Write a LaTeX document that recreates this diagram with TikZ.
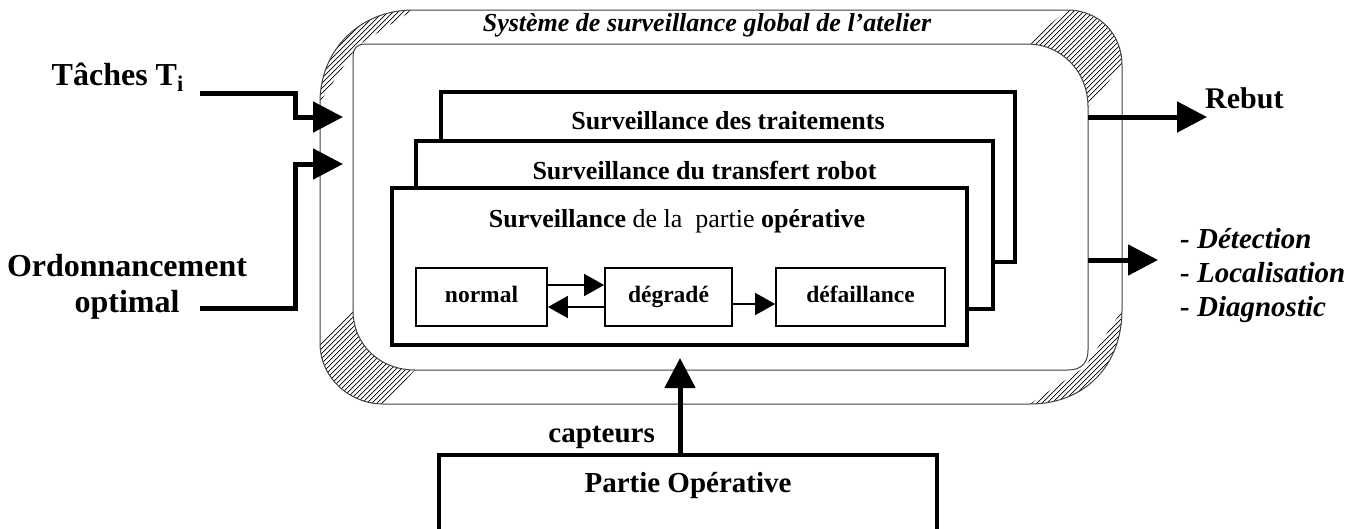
\documentclass[tikz,border=0pt]{standalone}
\usepackage{fontspec}
\setmainfont{Liberation Serif}
\usetikzlibrary{arrows.meta, positioning}

\begin{document}
\begin{tikzpicture}[x=1pt, y=-1pt,
    panel/.style={draw, line width=3.5pt, fill=white, inner sep=0pt},
    etat/.style={draw, line width=1.8pt, minimum height=58pt, inner sep=0pt,
                 font=\fontsize{23.5}{26}\selectfont\bfseries, text height=16pt, text depth=5pt},
    entete/.style={font=\fontsize{26}{30}\selectfont, inner sep=0pt, anchor=base},
    lbl/.style={font=\fontsize{32}{36}\selectfont\bfseries, inner sep=0pt, align=center},
    fleche/.style={-{Triangle[length=30pt, width=30pt]}, line width=5pt},
    petite/.style={-{Triangle[length=20pt, width=22pt]}, line width=1.8pt},
    cadre/.style={line width=1pt, draw=black!75}
]
\useasboundingbox (0,0) rectangle (1359,528);

% hachures des coins
\begin{scope}
  \clip (320,102) .. controls (320,50) and (360,10) .. (413,10) -- (357,46) -- cycle
        (1067,10) .. controls (1100,10) and (1122,35) .. (1122,65) -- (1088,107)
            .. controls (1088,72) and (1062,44) .. (1027,44) -- cycle
        (320,343) .. controls (320,378) and (350,404) .. (383,404) -- (415,370)
            .. controls (380,370) and (353,345) .. (353,310) -- cycle
        (1122,310) .. controls (1122,365) and (1085,404) .. (1030,404) -- (1085,367) -- cycle;
  \foreach \i in {-120,-115,...,1240}
    \draw[line width=0.7pt] (\i,420) -- ++(420,-420);
\end{scope}

% cadre global
\draw[cadre] (413,10) -- (1067,10) .. controls (1100,10) and (1122,35) .. (1122,65)
    -- (1122,310) .. controls (1122,365) and (1085,404) .. (1030,404)
    -- (383,404) .. controls (350,404) and (320,378) .. (320,343)
    -- (320,102) .. controls (320,50) and (360,10) .. (413,10);
\draw[cadre] (365,44) -- (1027,44) .. controls (1062,44) and (1088,72) .. (1088,107)
    -- (1088,350) .. controls (1088,362) and (1082,370) .. (1068,370)
    -- (415,370) .. controls (380,370) and (353,345) .. (353,310)
    -- (353,56) .. controls (353,49) and (357,44) .. (365,44);
\node[font=\fontsize{26}{30}\selectfont\bfseries\itshape, anchor=base, inner sep=0pt] (titre)
    at (707,31) {Système de surveillance global de l’atelier};

% niveaux de surveillance
\node[panel, minimum width=574pt, minimum height=170pt] (trait) at (728,177) {};
\node[entete] (ttrait) at (728,129) {\bfseries Surveillance des traitements};
\node[panel, minimum width=577pt, minimum height=168pt] (robot) at (704.5,225) {};
\node[entete] (trobot) at (704.5,179) {\bfseries Surveillance du transfert robot};
\node[panel, minimum width=575pt, minimum height=157pt] (po1) at (679.5,266.5) {};
\node[entete] (tpo1) at (677,227) {\textbf{Surveillance} de la\ \ partie \textbf{opérative}};

\node[etat, minimum width=131pt] (normal) at (481.5,297) {normal};
\node[etat, minimum width=127pt] (degrade) at (668.5,297) {dégradé};
\node[etat, minimum width=169pt] (defail) at (860.5,297) {défaillance};
\draw[petite] ([yshift=12pt]normal.east) -- ([yshift=12pt]degrade.west);
\draw[petite] ([yshift=-10pt]degrade.west) -- ([yshift=-10pt]normal.east);
\draw[petite] ([yshift=-7pt]degrade.east) -- ([yshift=-7pt]defail.west);

% entrees
\node[lbl, anchor=base east] (taches) at (184,85) {Tâches T\textsubscript{i}};
\node[lbl] (ordo) at (127,287) {Ordonnancement\\optimal};
\coordinate (s1) at (200,93);
\coordinate (s2) at (200,308);
\coordinate (e1) at (343,117);
\coordinate (e2) at (343,164);
\draw[fleche] (s1) -- ++(95,0) |- (e1);
\draw[fleche] (s2) -- ++(95,0) |- (e2);

% sorties
\coordinate (r0) at (1088,117);
\coordinate (r1) at (1207,117);
\draw[fleche] (r0) -- (r1);
\node[font=\fontsize{30}{34}\selectfont\bfseries, anchor=base west, inner sep=0pt] (rebut)
    at (1205,108) {Rebut};
\coordinate (d0) at (1088,260);
\coordinate (d1) at (1158,260);
\draw[fleche] (d0) -- (d1);
\node[font=\fontsize{29}{34}\selectfont\bfseries\itshape, anchor=west, align=left, inner sep=0pt]
    (diag) at (1180,276) {- Détection\\- Localisation\\- Diagnostic};

% partie operative
\node[panel, anchor=north, minimum width=498pt, minimum height=110pt] (po) at (688,453) {};
\node[font=\fontsize{29}{32}\selectfont\bfseries, anchor=base, inner sep=0pt] (potxt)
    at (688,492) {Partie Opérative};
\node[font=\fontsize{29}{32}\selectfont\bfseries, anchor=base east, inner sep=0pt] (capteurs)
    at (655,442) {capteurs};
\coordinate (c1) at (680,358);
\draw[fleche] (po.north -| c1) -- (c1);
\end{tikzpicture}
\end{document}
